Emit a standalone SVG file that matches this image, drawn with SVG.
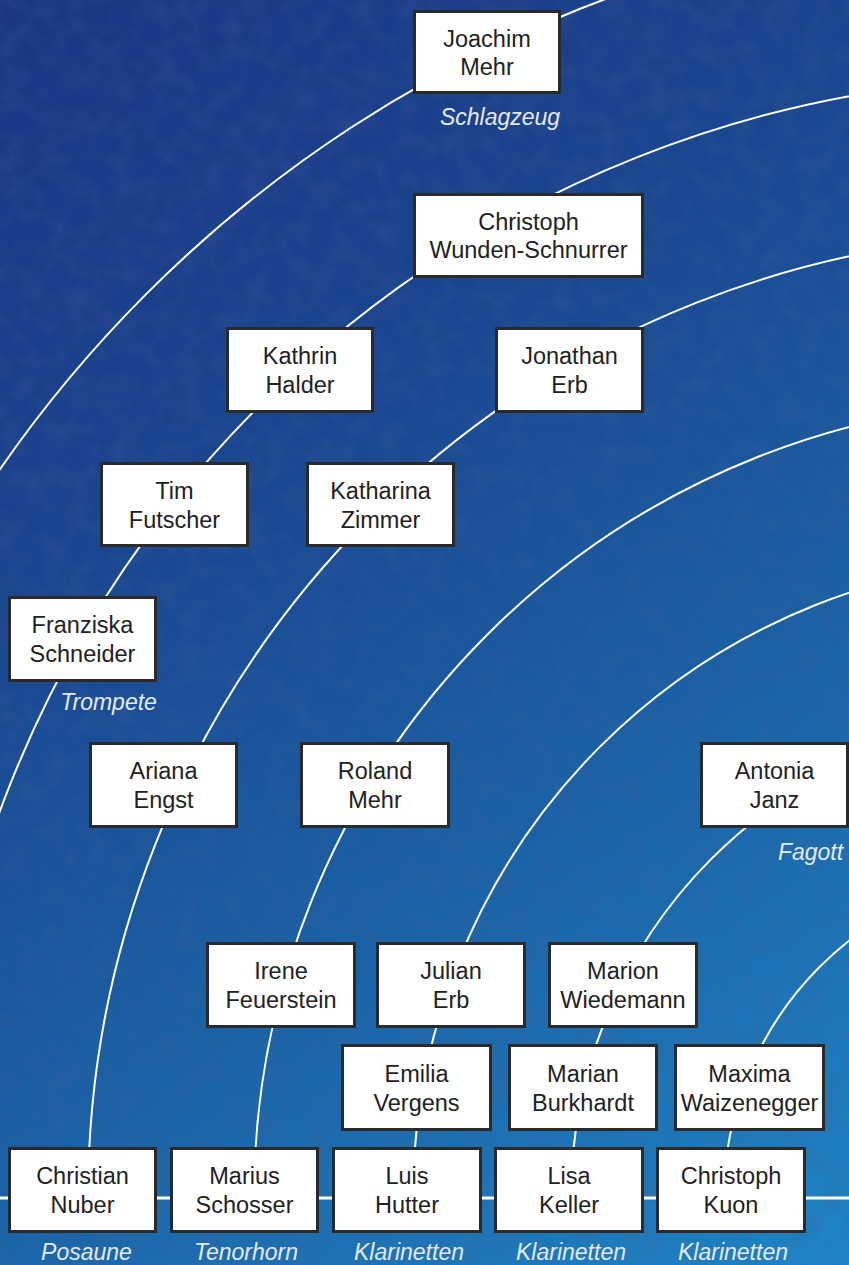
<svg xmlns="http://www.w3.org/2000/svg" width="849" height="1265" viewBox="0 0 849 1265">
  <defs>
    <linearGradient id="bg" x1="0" y1="0" x2="849" y2="1265" gradientUnits="userSpaceOnUse">
      <stop offset="0" stop-color="#1a3583"/>
      <stop offset="0.35" stop-color="#1a4690"/>
      <stop offset="0.65" stop-color="#1a62a6"/>
      <stop offset="1" stop-color="#1f85c6"/>
    </linearGradient>
    <filter id="grain" x="0" y="0" width="100%" height="100%">
      <feTurbulence type="fractalNoise" baseFrequency="0.045" numOctaves="4" seed="7" result="n"/>
      <feColorMatrix in="n" type="matrix" values="0 0 0 0 0.05  0 0 0 0 0.12  0 0 0 0 0.30  1.6 0 0 0 -0.6"/>
    </filter>
    <style>
      .box { fill: #ffffff; stroke: #2a2a2a; stroke-width: 3; }
      .name { font-family: "Liberation Sans", Arial, sans-serif; font-size: 23.5px; fill: #222222; text-anchor: middle; }
      .instr { font-family: "Liberation Sans", Arial, sans-serif; font-style: italic; font-size: 23px; fill: #e3e9f2; text-anchor: middle; }
      .arc { fill: none; stroke: #ffffff; stroke-width: 2; }
      .stage { fill: none; stroke: #ffffff; stroke-width: 3; }
    </style>
  </defs>

  <g id="background">
    <rect x="0" y="0" width="849" height="1265" fill="url(#bg)"/>
    <rect x="0" y="0" width="849" height="1265" filter="url(#grain)" opacity="0.35"/>
  </g>

  <g id="connectors">
    <path class="arc" d="M -228 1198 A 1279 1279 0 0 1 1051 -81"/>
    <path class="arc" d="M -69 1198 A 1120 1120 0 0 1 1051 78"/>
    <path class="arc" d="M 88 1198 A 963 963 0 0 1 1051 235"/>
    <path class="arc" d="M 254 1198 A 797 797 0 0 1 1051 401"/>
    <path class="arc" d="M 413 1198 A 638 638 0 0 1 1051 560"/>
    <path class="arc" d="M 571 1198 A 480 480 0 0 1 1051 718"/>
    <path class="arc" d="M 724 1198 A 327 327 0 0 1 1051 871"/>
    <line class="stage" x1="0" y1="1198" x2="849" y2="1198"/>
  </g>

  <g id="node-joachim-mehr">
    <rect class="box" x="414.5" y="11.5" width="145" height="81"/>
    <text class="name" x="487" y="47">Joachim</text>
    <text class="name" x="487" y="75">Mehr</text>
    <text class="instr" x="500" y="125">Schlagzeug</text>
  </g>
  <g id="node-christoph-wunden-schnurrer">
    <rect class="box" x="414.5" y="194.5" width="228" height="82"/>
    <text class="name" x="528.5" y="230">Christoph</text>
    <text class="name" x="528.5" y="258">Wunden-Schnurrer</text>
  </g>
  <g id="node-kathrin-halder">
    <rect class="box" x="227.5" y="328.5" width="145" height="83"/>
    <text class="name" x="300" y="364">Kathrin</text>
    <text class="name" x="300" y="393">Halder</text>
  </g>
  <g id="node-jonathan-erb">
    <rect class="box" x="496.5" y="328.5" width="146" height="83"/>
    <text class="name" x="569.5" y="364">Jonathan</text>
    <text class="name" x="569.5" y="393">Erb</text>
  </g>
  <g id="node-tim-futscher">
    <rect class="box" x="101.5" y="463.5" width="146" height="82"/>
    <text class="name" x="174.5" y="499">Tim</text>
    <text class="name" x="174.5" y="528">Futscher</text>
  </g>
  <g id="node-katharina-zimmer">
    <rect class="box" x="307.5" y="463.5" width="146" height="82"/>
    <text class="name" x="380.5" y="499">Katharina</text>
    <text class="name" x="380.5" y="528">Zimmer</text>
  </g>
  <g id="node-franziska-schneider">
    <rect class="box" x="9.5" y="597.5" width="146" height="83"/>
    <text class="name" x="82.5" y="633">Franziska</text>
    <text class="name" x="82.5" y="662">Schneider</text>
    <text class="instr" x="108.5" y="710">Trompete</text>
  </g>
  <g id="node-ariana-engst">
    <rect class="box" x="90.5" y="743.5" width="146" height="83"/>
    <text class="name" x="163.5" y="779">Ariana</text>
    <text class="name" x="163.5" y="808">Engst</text>
  </g>
  <g id="node-roland-mehr">
    <rect class="box" x="301.5" y="743.5" width="147" height="83"/>
    <text class="name" x="375" y="779">Roland</text>
    <text class="name" x="375" y="808">Mehr</text>
  </g>
  <g id="node-antonia-janz">
    <rect class="box" x="701.5" y="743.5" width="146" height="83"/>
    <text class="name" x="774.5" y="779">Antonia</text>
    <text class="name" x="774.5" y="808">Janz</text>
    <text class="instr" x="810.5" y="860">Fagott</text>
  </g>
  <g id="node-irene-feuerstein">
    <rect class="box" x="207.5" y="943.5" width="147" height="83"/>
    <text class="name" x="281" y="979">Irene</text>
    <text class="name" x="281" y="1008">Feuerstein</text>
  </g>
  <g id="node-julian-erb">
    <rect class="box" x="377.5" y="943.5" width="147" height="83"/>
    <text class="name" x="451" y="979">Julian</text>
    <text class="name" x="451" y="1008">Erb</text>
  </g>
  <g id="node-marion-wiedemann">
    <rect class="box" x="549.5" y="943.5" width="147" height="83"/>
    <text class="name" x="623" y="979">Marion</text>
    <text class="name" x="623" y="1008">Wiedemann</text>
  </g>
  <g id="node-emilia-vergens">
    <rect class="box" x="342.5" y="1045.5" width="148" height="84"/>
    <text class="name" x="416.5" y="1082">Emilia</text>
    <text class="name" x="416.5" y="1111">Vergens</text>
  </g>
  <g id="node-marian-burkhardt">
    <rect class="box" x="509.5" y="1045.5" width="147" height="84"/>
    <text class="name" x="583" y="1082">Marian</text>
    <text class="name" x="583" y="1111">Burkhardt</text>
  </g>
  <g id="node-maxima-waizenegger">
    <rect class="box" x="675.5" y="1045.5" width="148" height="84"/>
    <text class="name" x="749.5" y="1082">Maxima</text>
    <text class="name" x="749.5" y="1111">Waizenegger</text>
  </g>
  <g id="node-christian-nuber">
    <rect class="box" x="9.5" y="1148.5" width="146" height="83"/>
    <text class="name" x="82.5" y="1184">Christian</text>
    <text class="name" x="82.5" y="1213">Nuber</text>
    <text class="instr" x="86.5" y="1260">Posaune</text>
  </g>
  <g id="node-marius-schosser">
    <rect class="box" x="171.5" y="1148.5" width="146" height="83"/>
    <text class="name" x="244.5" y="1184">Marius</text>
    <text class="name" x="244.5" y="1213">Schosser</text>
    <text class="instr" x="246" y="1260">Tenorhorn</text>
  </g>
  <g id="node-luis-hutter">
    <rect class="box" x="333.5" y="1148.5" width="147" height="83"/>
    <text class="name" x="407" y="1184">Luis</text>
    <text class="name" x="407" y="1213">Hutter</text>
    <text class="instr" x="409" y="1260">Klarinetten</text>
  </g>
  <g id="node-lisa-keller">
    <rect class="box" x="495.5" y="1148.5" width="147" height="83"/>
    <text class="name" x="569" y="1184">Lisa</text>
    <text class="name" x="569" y="1213">Keller</text>
    <text class="instr" x="571" y="1260">Klarinetten</text>
  </g>
  <g id="node-christoph-kuon">
    <rect class="box" x="657.5" y="1148.5" width="147" height="83"/>
    <text class="name" x="731" y="1184">Christoph</text>
    <text class="name" x="731" y="1213">Kuon</text>
    <text class="instr" x="733" y="1260">Klarinetten</text>
  </g>
</svg>
